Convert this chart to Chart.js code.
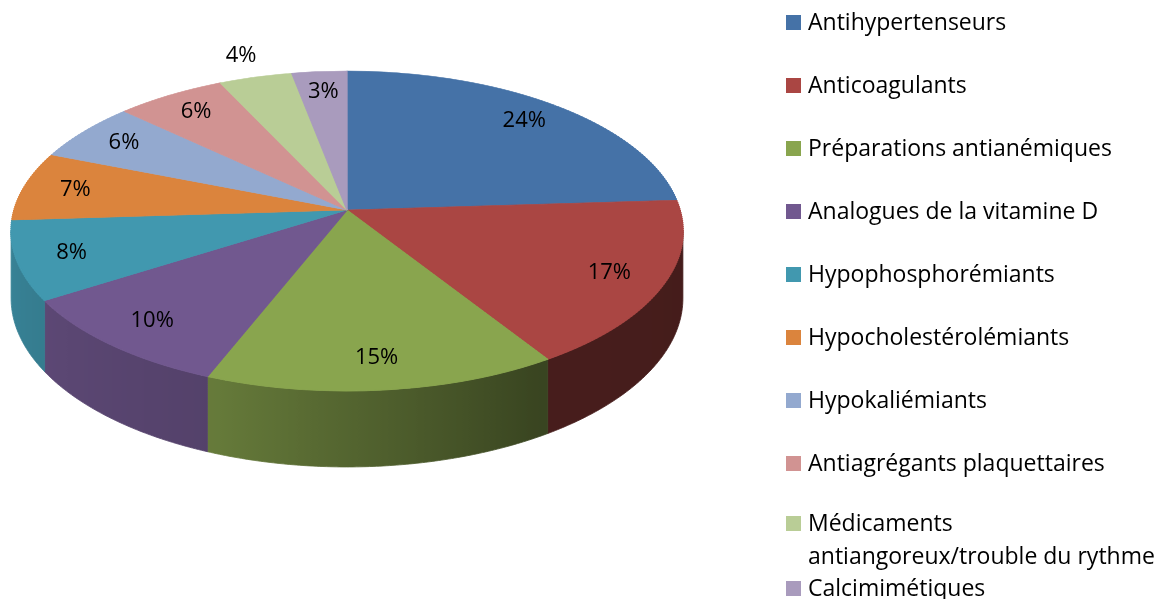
<!DOCTYPE html>
<html><head><meta charset="utf-8">
<script src="https://cdn.jsdelivr.net/npm/chart.js@4/dist/chart.umd.min.js"></script>
<style>html,body{margin:0;padding:0;background:#fff;overflow:hidden}#wrap{position:relative;width:1163px;height:599px}</style>
</head><body><div id="wrap"><canvas id="c"></canvas></div>
<script>
// ---- data ----
const categories = [
  'Antihypertenseurs',
  'Anticoagulants',
  'Préparations antianémiques',
  'Analogues de la vitamine D',
  'Hypophosphorémiants',
  'Hypocholestérolémiants',
  'Hypokaliémiants',
  'Antiagrégants plaquettaires',
  ['Médicaments', 'antiangoreux/trouble du rythme'],
  'Calcimimétiques'
];
const shares = [24, 17, 15, 10, 8, 7, 6, 6, 4, 3];
const colors = ['#4572A7','#AA4643','#89A54E','#71588F','#4198AF','#DB843D','#93A9CF','#D19392','#B9CD96','#A99BBD'];

// ---- style constants (3D perspective look) ----
const FONT = "'Open Sans', sans-serif";
const PERSP_K = 0.1312, PERSP_A = 333, PERSP_B = 157.2, DEPTH = 76;
const LIGHT = [[0,0.40],[60,0.42],[110,0.74],[150,0.82],[180,0.88]];

function hexToRgb(h){const n=parseInt(h.slice(1),16);return [(n>>16)&255,(n>>8)&255,n&255];}
function shadeAt(deg){
  for(let i=1;i<LIGHT.length;i++){
    if(deg<=LIGHT[i][0]){const [d0,s0]=LIGHT[i-1],[d1,s1]=LIGHT[i];return s0+(s1-s0)*(deg-d0)/(d1-d0);}
  }
  return LIGHT[LIGHT.length-1][1];
}
function shaded(hex,s){const [r,g,b]=hexToRgb(hex);return `rgb(${Math.round(r*s)},${Math.round(g*s)},${Math.round(b*s)})`;}
const persp = v => 1/(1-PERSP_K*v);

const pie3d = {
  id: 'pie3d',
  beforeDatasetsDraw(chart){
    const ctx = chart.ctx;
    const arcs = chart.getDatasetMeta(0).data;
    const ds = chart.data.datasets[0];
    const {x:cx, y:cy, outerRadius:R} = arcs[0];
    const proj = (u,v) => [cx + PERSP_A*u*persp(v), cy + PERSP_B*v*persp(v)];
    const vOf = y => { const d = y-cy; return d/(PERSP_B + PERSP_K*d); };
    const ak = Math.asin(PERSP_K);
    const sBottom = persp(1);
    // side walls (visible front part)
    arcs.forEach((el,i)=>{
      const a1 = Math.max(el.startAngle, ak), a2 = Math.min(el.endAngle, Math.PI-ak);
      if (a2 <= a1) return;
      const n = Math.max(4, Math.ceil((a2-a1)*180/Math.PI*2));
      const top = [], bot = [];
      for(let k=0;k<=n;k++){
        const a = a1+(a2-a1)*k/n, u=Math.cos(a), v=Math.sin(a);
        const [x,y] = proj(u,v);
        top.push([x,y,a]); bot.push([x, y + DEPTH*persp(v)/sBottom]);
      }
      const xs = top.map(p=>p[0]);
      const xL = Math.min(...xs), xR = Math.max(...xs)+0.001;
      const g = ctx.createLinearGradient(xL,0,xR,0);
      top.forEach(([x,,a])=>{
        g.addColorStop(Math.min(1,Math.max(0,(x-xL)/(xR-xL))), shaded(ds.backgroundColor[i], shadeAt(a*180/Math.PI)));
      });
      ctx.save();
      ctx.beginPath();
      top.forEach(([x,y],k)=> k?ctx.lineTo(x,y):ctx.moveTo(x,y));
      for(let k=bot.length-1;k>=0;k--) ctx.lineTo(bot[k][0],bot[k][1]);
      ctx.closePath();
      ctx.fillStyle = g; ctx.strokeStyle = g; ctx.lineWidth = 0.8;
      ctx.fill(); ctx.stroke();
      ctx.restore();
    });
    // top faces: drawn band by band with a perspective scale per band
    const W = chart.width;
    const yTop = Math.floor(proj(0,-1)[1]) - 3, yBot = Math.ceil(proj(0,1)[1]) + 3;
    const h = 2;
    for(let Y=yTop; Y<yBot; Y+=h){
      const v0 = vOf(Y), v1 = vOf(Y+h), vm = (v0+v1)/2;
      const sxk = PERSP_A*persp(vm)/R;
      const syk = h/((v1-v0)*R);
      ctx.save();
      ctx.beginPath(); ctx.rect(0,Y,W,h); ctx.clip();
      ctx.transform(sxk, 0, 0, syk, cx - cx*sxk, Y - (cy + v0*R)*syk);
      arcs.forEach(el=>el.draw(ctx));
      ctx.restore();
    }
    return false;
  },
  afterDraw(chart, args, opts){
    const ctx = chart.ctx;
    const arcs = chart.getDatasetMeta(0).data;
    const data = chart.data.datasets[0].data;
    const total = data.reduce((a,b)=>a+b,0);
    const {x:cx, y:cy} = arcs[0];
    const proj = (u,v) => [cx + PERSP_A*u*persp(v), cy + PERSP_B*v*persp(v)];
    ctx.save();
    ctx.font = `22px ${FONT}`;
    ctx.fillStyle = '#000';
    ctx.textAlign = 'center'; ctx.textBaseline = 'middle';
    arcs.forEach((el,i)=>{
      const mid = (el.startAngle+el.endAngle)/2;
      const f = opts.outside.includes(i) ? 1.18 : 0.84;
      const [px,py] = proj(Math.cos(mid)*f, Math.sin(mid)*f);
      ctx.fillText(Math.round(data[i]/total*100)+'%', px, py);
    });
    ctx.restore();
    // legend
    ctx.save();
    ctx.font = `23px ${FONT}`;
    ctx.textAlign = 'left'; ctx.textBaseline = 'middle';
    let y = 22.5;
    const labels = chart.data.labels, bg = chart.data.datasets[0].backgroundColor;
    labels.forEach((lab,i)=>{
      const lines = Array.isArray(lab) ? lab : [lab];
      if (i>0) y += (lines.length>1 ? 60 : (Array.isArray(labels[i-1]) ? 32.5 : 63));
      ctx.fillStyle = bg[i];
      ctx.fillRect(786, Math.round(y-7.5), 15, 15);
      ctx.fillStyle = '#000';
      lines.forEach((ln,k)=>{ ctx.fillText(ln, 808, y + k*32.5 + 1); });
      y += (lines.length-1)*32.5;
    });
    ctx.restore();
  }
};

new Chart(document.getElementById('c'), {
  type: 'pie',
  data: {
    labels: categories,
    datasets: [{ data: shares, backgroundColor: colors, borderColor: colors, borderWidth: 0.6 }]
  },
  options: {
    responsive: true, maintainAspectRatio: false, animation: false, events: [],
    layout: { padding: { left: 208, right: 677, top: 71, bottom: 250 } },
    plugins: { legend: { display: false }, title: { display: false }, tooltip: { enabled: false },
      pie3d: { outside: [8] } }
  },
  plugins: [pie3d]
});
</script></body></html>
